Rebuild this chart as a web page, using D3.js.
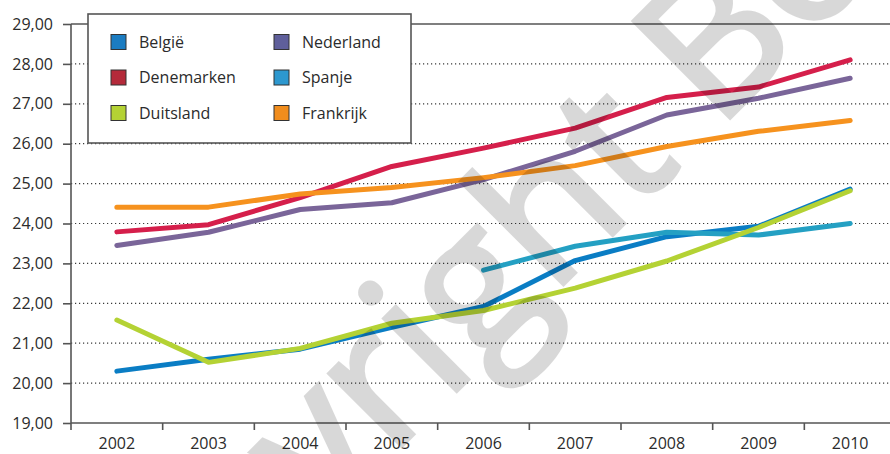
<!DOCTYPE html>
<html>
<head>
<meta charset="utf-8">
<script src="https://d3js.org/d3.v7.min.js"></script>
<style>
body { margin: 0; background: #fff; }
svg text { font-family: "Open Sans", sans-serif; fill: #2b2b2b; }
</style>
</head>
<body>
<svg id="chart" width="890" height="454"></svg>
<script>
// data
var years = ["2002", "2003", "2004", "2005", "2006", "2007", "2008", "2009", "2010"];
var belgie     = [20.30, 20.60, 20.85, 21.40, 21.92, 23.07, 23.67, 23.93, 24.86];
var denemarken = [23.79, 23.97, 24.65, 25.43, 25.89, 26.39, 27.16, 27.42, 28.10];
var duitsland  = [21.58, 20.52, 20.87, 21.50, 21.82, 22.38, 23.06, 23.90, 24.82];
var nederland  = [23.45, 23.78, 24.35, 24.52, 25.10, 25.81, 26.72, 27.14, 27.64];
var spanje     = [null, null, null, null, 22.83, 23.43, 23.78, 23.71, 24.00];
var frankrijk  = [24.41, 24.41, 24.74, 24.90, 25.15, 25.45, 25.93, 26.31, 26.58];
var yTicks = [19, 20, 21, 22, 23, 24, 25, 26, 27, 28, 29];

var series = [
  {name: "Nederland",  values: nederland,  color: "#7a6599", key: "#5f5f9b"},
  {name: "Denemarken", values: denemarken, color: "#d51f4b", key: "#b42a3a"},
  {name: "Frankrijk",  values: frankrijk,  color: "#f6921e", key: "#f18d1d"},
  {name: "België",     values: belgie,     color: "#0a7dc4", key: "#1b7cc1"},
  {name: "Spanje",     values: spanje,     color: "#24a0c3", key: "#2d98cf"},
  {name: "Duitsland",  values: duitsland,  color: "#b4d234", key: "#b4d234"}
];
var legendOrder = ["België", "Denemarken", "Duitsland", "Nederland", "Spanje", "Frankrijk"];

var svg = d3.select("#chart");
var mLeft = 71, mTop = 24, mBottom = 423;

var x = d3.scaleBand().domain(years).range([mLeft, 896]);
var y = d3.scaleLinear().domain([19, 29]).range([mBottom, mTop]);
var fmt = function(v) { return d3.format(".2f")(v).replace(".", ","); };

// dotted grid
svg.append("g").selectAll("line")
  .data(yTicks.filter(function(t) { return t > 19 && t < 29; }))
  .enter().append("line")
  .attr("x1", mLeft).attr("x2", 890)
  .attr("y1", function(d) { return y(d); }).attr("y2", function(d) { return y(d); })
  .attr("stroke", "#3a3a3a").attr("stroke-width", 1.2)
  .attr("stroke-dasharray", "1.2,2.8");

// top border
svg.append("line")
  .attr("x1", mLeft).attr("x2", 890).attr("y1", y(29)).attr("y2", y(29))
  .attr("stroke", "#555").attr("stroke-width", 1.6);

// y axis
var yAxis = svg.append("g")
  .attr("transform", "translate(" + mLeft + ",0)")
  .call(d3.axisLeft(y).tickValues(yTicks).tickSize(8).tickPadding(10).tickFormat(fmt));
yAxis.select(".domain").remove();
yAxis.selectAll(".tick line").attr("stroke", "#555").attr("stroke-width", 1.6);
yAxis.selectAll("text").style("font-size", "16px").style("fill", "#2b2b2b");
svg.append("line")
  .attr("x1", mLeft).attr("x2", mLeft).attr("y1", y(29)).attr("y2", mBottom + 7)
  .attr("stroke", "#555").attr("stroke-width", 1.6);

// x axis
svg.append("line")
  .attr("x1", mLeft).attr("x2", 890).attr("y1", mBottom).attr("y2", mBottom)
  .attr("stroke", "#555").attr("stroke-width", 1.6);
svg.append("g").selectAll("line")
  .data(years.slice(1))
  .enter().append("line")
  .attr("x1", function(d) { return x(d); }).attr("x2", function(d) { return x(d); })
  .attr("y1", mBottom).attr("y2", mBottom + 7)
  .attr("stroke", "#555").attr("stroke-width", 1.6);
var xAxis = svg.append("g")
  .attr("transform", "translate(0," + mBottom + ")")
  .call(d3.axisBottom(x).tickSize(0).tickPadding(15));
xAxis.select(".domain").remove();
xAxis.selectAll("text").style("font-size", "16px").style("fill", "#2b2b2b");

// lines
var line = d3.line()
  .defined(function(d) { return d != null; })
  .x(function(d, i) { return x(years[i]) + x.bandwidth() / 2; })
  .y(function(d) { return y(d); });

svg.append("g").selectAll("path")
  .data(series)
  .enter().append("path")
  .attr("d", function(s) { return line(s.values); })
  .attr("fill", "none")
  .attr("stroke", function(s) { return s.color; })
  .attr("stroke-width", 5)
  .attr("stroke-linecap", "round")
  .attr("stroke-linejoin", "round");

// legend
var lg = svg.append("g");
lg.append("rect")
  .attr("x", 88).attr("y", 14).attr("width", 323).attr("height", 129)
  .attr("fill", "#fff").attr("stroke", "#555").attr("stroke-width", 1.6);
var items = lg.selectAll("g.item")
  .data(legendOrder.map(function(n) { return series.find(function(s) { return s.name === n; }); }))
  .enter().append("g")
  .attr("transform", function(d, i) {
    var col = Math.floor(i / 3), row = i % 3;
    return "translate(" + (col ? 274 : 111) + "," + (42 + row * 35.5) + ")";
  });
items.append("rect")
  .attr("x", 0).attr("y", -7.5).attr("width", 15).attr("height", 15)
  .attr("fill", function(d) { return d.key; })
  .attr("stroke", "#333").attr("stroke-width", 1);
items.append("text")
  .attr("x", 28).attr("dy", "0.35em")
  .style("font-size", "16px")
  .text(function(d) { return d.name; });

// watermark
var wm = svg.append("g")
  .attr("transform", "translate(717,130) rotate(-45)")
  .style("opacity", 0.15)
  .style("pointer-events", "none");
wm.append("text")
  .attr("x", -49).attr("text-anchor", "end")
  .style("font-size", "190px")
  .style("fill", "#000").style("stroke", "#000").style("stroke-width", 5)
  .text("Copyright");
wm.append("text")
  .attr("x", 0)
  .style("font-size", "190px")
  .style("fill", "#000").style("stroke", "#000").style("stroke-width", 5)
  .text("Bo");
</script>
</body>
</html>
